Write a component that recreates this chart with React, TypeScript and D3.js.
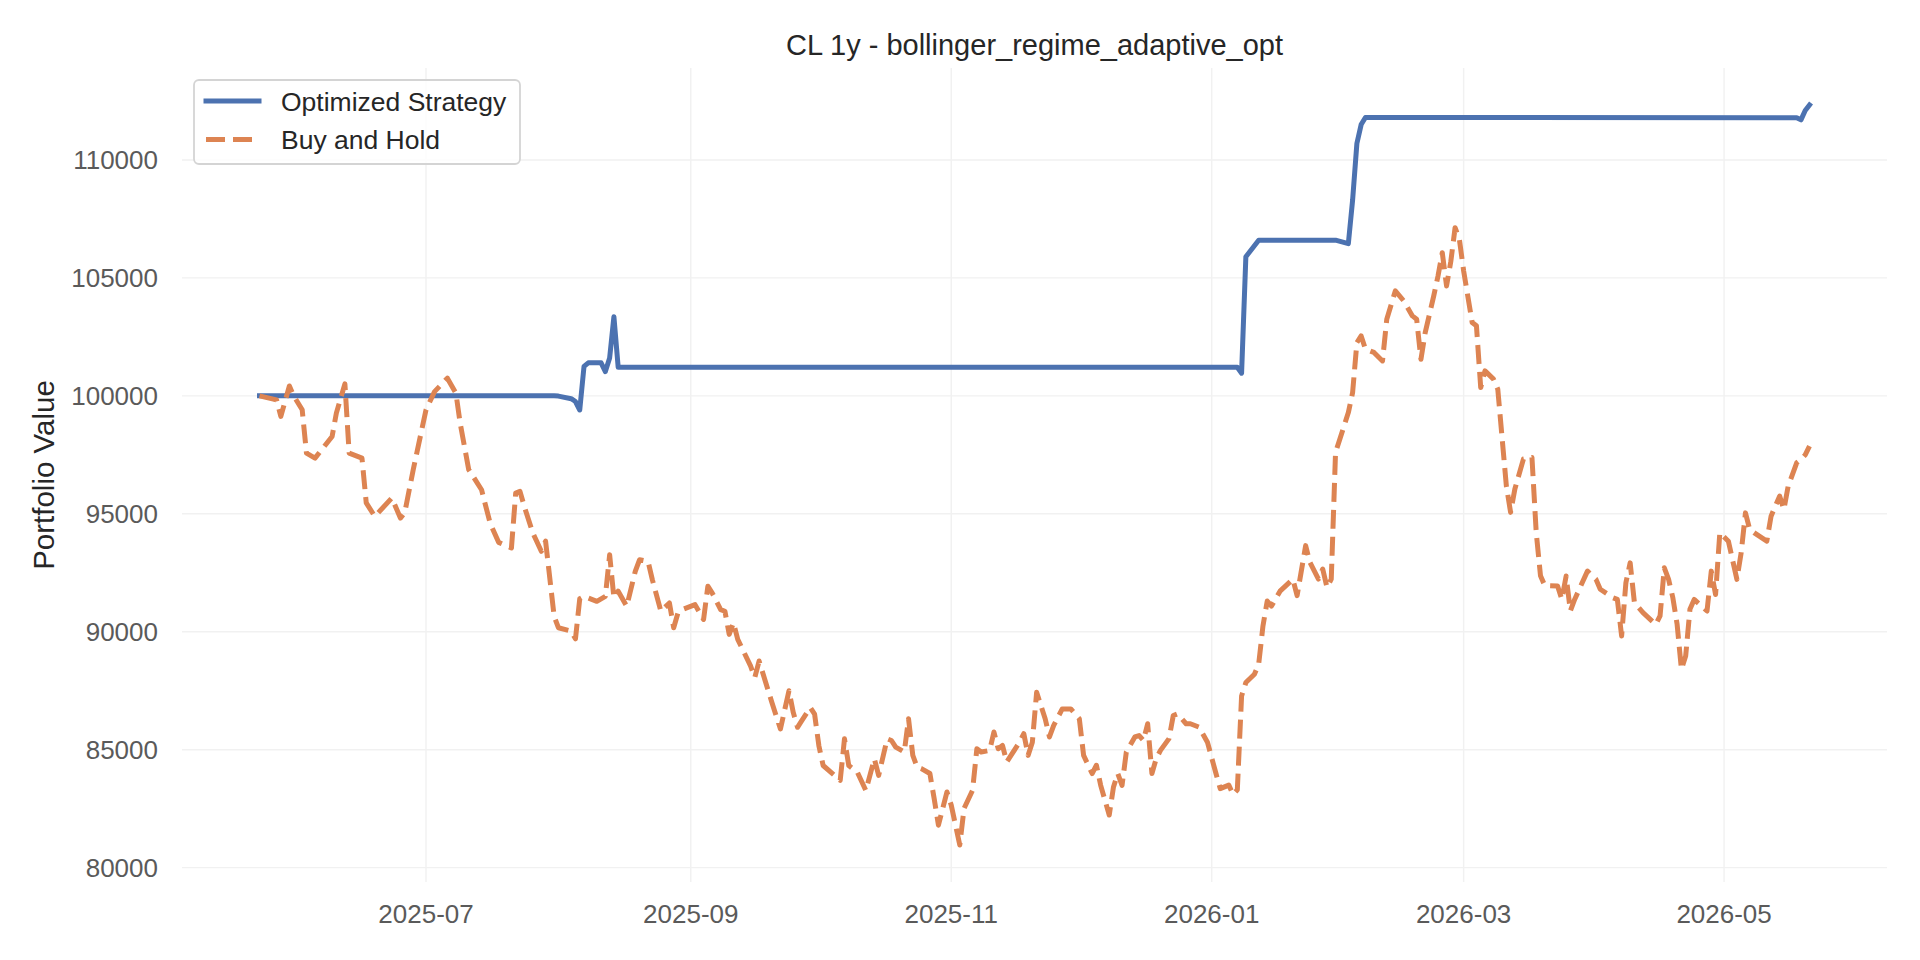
import * as d3 from "d3";

// values (CL 1y backtest)
const strategyPoints: [string, number][] = [
  ["2025-05-23", 100000], ["2025-07-31", 100000], ["2025-08-01", 99990], ["2025-08-04", 99880],
  ["2025-08-05", 99760], ["2025-08-06", 99400], ["2025-08-07", 101250], ["2025-08-08", 101400],
  ["2025-08-11", 101400], ["2025-08-12", 101030], ["2025-08-13", 101600], ["2025-08-14", 103350],
  ["2025-08-15", 101210], ["2026-01-07", 101210], ["2026-01-08", 100960], ["2026-01-09", 105900],
  ["2026-01-12", 106600], ["2026-01-30", 106600], ["2026-02-02", 106450], ["2026-02-03", 108300],
  ["2026-02-04", 110700], ["2026-02-05", 111500], ["2026-02-06", 111800], ["2026-05-18", 111790],
  ["2026-05-19", 111700], ["2026-05-20", 112100], ["2026-05-21", 112330],
];

const holdPoints: [string, number][] = [
  ["2025-05-23", 100000], ["2025-05-27", 99830], ["2025-05-28", 99130], ["2025-05-30", 100420],
  ["2025-05-31", 100000], ["2025-06-02", 99410], ["2025-06-03", 97570], ["2025-06-05", 97360],
  ["2025-06-09", 98280], ["2025-06-10", 99270], ["2025-06-12", 100510], ["2025-06-13", 97570],
  ["2025-06-16", 97360], ["2025-06-17", 95460], ["2025-06-19", 94890], ["2025-06-23", 95670],
  ["2025-06-25", 94820], ["2025-06-26", 95040], ["2025-06-28", 96870], ["2025-07-01", 99410],
  ["2025-07-03", 100180], ["2025-07-06", 100750], ["2025-07-08", 100110], ["2025-07-09", 98840],
  ["2025-07-11", 96870], ["2025-07-12", 96590], ["2025-07-14", 96020], ["2025-07-16", 94610],
  ["2025-07-18", 93790], ["2025-07-21", 93550], ["2025-07-22", 95880], ["2025-07-23", 95950],
  ["2025-07-24", 95320], ["2025-07-26", 94190], ["2025-07-28", 93410], ["2025-07-29", 93840],
  ["2025-07-31", 90660], ["2025-08-01", 90170], ["2025-08-04", 90030], ["2025-08-05", 89700],
  ["2025-08-06", 91400], ["2025-08-07", 91500], ["2025-08-10", 91290], ["2025-08-12", 91500],
  ["2025-08-13", 93260], ["2025-08-14", 91440], ["2025-08-15", 91720], ["2025-08-17", 91080],
  ["2025-08-19", 92560], ["2025-08-20", 93050], ["2025-08-22", 92980], ["2025-08-23", 92210],
  ["2025-08-25", 90870], ["2025-08-27", 91220], ["2025-08-28", 90170], ["2025-08-29", 90800],
  ["2025-08-30", 90940], ["2025-09-02", 91150], ["2025-09-04", 90520], ["2025-09-05", 91930],
  ["2025-09-06", 91650], ["2025-09-08", 90940], ["2025-09-09", 90870], ["2025-09-10", 89890],
  ["2025-09-11", 90380], ["2025-09-12", 89680], ["2025-09-15", 88550], ["2025-09-16", 88060],
  ["2025-09-17", 88760], ["2025-09-20", 87000], ["2025-09-22", 85880], ["2025-09-24", 87500],
  ["2025-09-25", 86580], ["2025-09-26", 85950], ["2025-09-27", 86230], ["2025-09-29", 86790],
  ["2025-09-30", 86510], ["2025-10-01", 85170], ["2025-10-02", 84330], ["2025-10-06", 83700],
  ["2025-10-07", 85460], ["2025-10-08", 84330], ["2025-10-10", 84050], ["2025-10-12", 83270],
  ["2025-10-14", 84610], ["2025-10-15", 83910], ["2025-10-17", 85460], ["2025-10-18", 85390],
  ["2025-10-19", 85110], ["2025-10-21", 84900], ["2025-10-22", 86310], ["2025-10-23", 84760],
  ["2025-10-24", 84270], ["2025-10-25", 84200], ["2025-10-27", 83990], ["2025-10-28", 82930],
  ["2025-10-29", 81800], ["2025-10-31", 83210], ["2025-11-01", 82650], ["2025-11-03", 80960],
  ["2025-11-04", 82510], ["2025-11-06", 83280], ["2025-11-07", 85040], ["2025-11-08", 84900],
  ["2025-11-10", 84970], ["2025-11-11", 85750], ["2025-11-12", 85040], ["2025-11-13", 85180],
  ["2025-11-14", 84480], ["2025-11-17", 85320], ["2025-11-18", 85680], ["2025-11-19", 84760],
  ["2025-11-20", 85320], ["2025-11-21", 87440], ["2025-11-22", 86870], ["2025-11-23", 86310],
  ["2025-11-24", 85540], ["2025-11-25", 86030], ["2025-11-27", 86730], ["2025-11-29", 86730],
  ["2025-12-01", 86310], ["2025-12-02", 84760], ["2025-12-04", 83990], ["2025-12-05", 84340],
  ["2025-12-06", 83490], ["2025-12-08", 82230], ["2025-12-09", 83420], ["2025-12-10", 83990],
  ["2025-12-11", 83490], ["2025-12-12", 84900], ["2025-12-14", 85540], ["2025-12-15", 85600],
  ["2025-12-16", 85390], ["2025-12-17", 86100], ["2025-12-18", 83990], ["2025-12-19", 84620],
  ["2025-12-20", 84970], ["2025-12-22", 85470], ["2025-12-23", 86450], ["2025-12-24", 86520],
  ["2025-12-26", 86100], ["2025-12-27", 86100], ["2025-12-29", 85960], ["2025-12-31", 85320],
  ["2026-01-02", 83990], ["2026-01-03", 83350], ["2026-01-05", 83500], ["2026-01-06", 83100],
  ["2026-01-07", 83300], ["2026-01-08", 87280], ["2026-01-09", 87850], ["2026-01-11", 88200],
  ["2026-01-12", 88620], ["2026-01-13", 90240], ["2026-01-14", 91300], ["2026-01-15", 91090],
  ["2026-01-17", 91720], ["2026-01-20", 92230], ["2026-01-21", 91530], ["2026-01-23", 93650],
  ["2026-01-24", 92940], ["2026-01-26", 92230], ["2026-01-27", 92660], ["2026-01-28", 91880],
  ["2026-01-29", 92230], ["2026-01-30", 97600], ["2026-01-31", 98160], ["2026-02-02", 99290],
  ["2026-02-03", 100140], ["2026-02-04", 102260], ["2026-02-05", 102540], ["2026-02-06", 101980],
  ["2026-02-08", 101840], ["2026-02-10", 101480], ["2026-02-11", 103250], ["2026-02-13", 104450],
  ["2026-02-15", 104020], ["2026-02-17", 103390], ["2026-02-18", 103250], ["2026-02-19", 101550],
  ["2026-02-20", 102680], ["2026-02-22", 104240], ["2026-02-23", 105080], ["2026-02-24", 106070],
  ["2026-02-25", 104660], ["2026-02-26", 105700], ["2026-02-27", 107130], ["2026-02-28", 106640],
  ["2026-03-01", 105300], ["2026-03-03", 103110], ["2026-03-04", 102970], ["2026-03-05", 100350],
  ["2026-03-06", 101060], ["2026-03-08", 100710], ["2026-03-09", 100280], ["2026-03-11", 96190],
  ["2026-03-12", 95060], ["2026-03-13", 96050], ["2026-03-15", 97320], ["2026-03-17", 97390],
  ["2026-03-18", 94210], ["2026-03-19", 92370], ["2026-03-20", 91960], ["2026-03-23", 91940],
  ["2026-03-24", 91370], ["2026-03-25", 92360], ["2026-03-26", 90880], ["2026-03-27", 91370],
  ["2026-03-30", 92570], ["2026-04-01", 92220], ["2026-04-02", 91800], ["2026-04-05", 91440],
  ["2026-04-06", 91370], ["2026-04-07", 89820], ["2026-04-08", 92080], ["2026-04-09", 92920],
  ["2026-04-10", 91230], ["2026-04-12", 90810], ["2026-04-15", 90310], ["2026-04-16", 90670],
  ["2026-04-17", 92710], ["2026-04-18", 92220], ["2026-04-19", 91440], ["2026-04-20", 90310],
  ["2026-04-21", 88410], ["2026-04-22", 88970], ["2026-04-23", 90950], ["2026-04-24", 91370],
  ["2026-04-27", 90880], ["2026-04-28", 92570], ["2026-04-29", 91580], ["2026-04-30", 94200],
  ["2026-05-02", 93840], ["2026-05-04", 92220], ["2026-05-05", 93350], ["2026-05-06", 95040],
  ["2026-05-07", 94340], ["2026-05-08", 94200], ["2026-05-11", 93840], ["2026-05-12", 94900],
  ["2026-05-14", 95750], ["2026-05-15", 95180], ["2026-05-16", 96170], ["2026-05-18", 97160],
  ["2026-05-19", 97300], ["2026-05-20", 97500], ["2026-05-21", 97870],
];

const yTicks = [80000, 85000, 90000, 95000, 100000, 105000, 110000];
const seriesNames = ["Optimized Strategy", "Buy and Hold"];
const seriesColors = ["#4c72b0", "#dd8452"];
const chartTitle = "CL 1y - bollinger_regime_adaptive_opt";
const yLabel = "Portfolio Value";

const width = 1920;
const height = 960;
const margin = { top: 68, right: 33, bottom: 78, left: 182 };
const font = "'Liberation Sans', Arial, sans-serif";

const parse = d3.timeParse("%Y-%m-%d");
type Pt = { date: Date; value: number };
const toPts = (rows: [string, number][]): Pt[] =>
  rows.map(([d, v]) => ({ date: parse(d) as Date, value: v }));

export default function App() {
  const strategy = toPts(strategyPoints);
  const hold = toPts(holdPoints);
  const all = strategy.concat(hold);

  // matplotlib-like 5% padding on both axes
  const [t0, t1] = d3.extent(all, (d) => d.date) as [Date, Date];
  const tPad = (t1.getTime() - t0.getTime()) * 0.05;
  const x = d3
    .scaleTime()
    .domain([new Date(t0.getTime() - tPad), new Date(t1.getTime() + tPad)])
    .range([margin.left, width - margin.right]);

  const [v0, v1] = d3.extent(all, (d) => d.value) as [number, number];
  const vPad = (v1 - v0) * 0.05;
  const y = d3
    .scaleLinear()
    .domain([v0 - vPad, v1 + vPad])
    .range([height - margin.bottom, margin.top]);

  const line = d3
    .line<Pt>()
    .x((d) => x(d.date))
    .y((d) => y(d.value));

  const xTicks = x.ticks(d3.timeMonth.every(2) as d3.TimeInterval);
  const fmt = d3.timeFormat("%Y-%m");

  const plotTop = margin.top;
  const plotBottom = height - margin.bottom;
  const plotLeft = margin.left;
  const plotRight = width - margin.right;

  return (
    <svg
      width={width}
      height={height}
      style={{ position: "absolute", left: 0, top: 0, background: "#fff" }}
      fontFamily={font}
    >
      {/* grid */}
      {xTicks.map((t) => (
        <line
          key={"gx" + t.getTime()}
          x1={x(t)}
          x2={x(t)}
          y1={plotTop}
          y2={plotBottom}
          stroke="#f1f1f1"
          strokeWidth={1.4}
        />
      ))}
      {yTicks.map((v) => (
        <line
          key={"gy" + v}
          x1={plotLeft}
          x2={plotRight}
          y1={y(v)}
          y2={y(v)}
          stroke="#f1f1f1"
          strokeWidth={1.4}
        />
      ))}

      {/* tick labels */}
      {xTicks.map((t) => (
        <text
          key={"tx" + t.getTime()}
          x={x(t)}
          y={plotBottom + 41}
          textAnchor="middle"
          fontSize={26}
          fill="#5a5a5a"
        >
          {fmt(t)}
        </text>
      ))}
      {yTicks.map((v) => (
        <text
          key={"ty" + v}
          x={plotLeft - 24}
          y={y(v)}
          dy="0.36em"
          textAnchor="end"
          fontSize={26}
          fill="#5a5a5a"
        >
          {v}
        </text>
      ))}

      {/* lines */}
      <path
        d={line(strategy) ?? ""}
        fill="none"
        stroke={seriesColors[0]}
        strokeWidth={5}
        strokeLinejoin="round"
        strokeLinecap="square"
      />
      <path
        d={line(hold) ?? ""}
        fill="none"
        stroke={seriesColors[1]}
        strokeWidth={5}
        strokeLinejoin="round"
        strokeDasharray="19 8"
      />

      {/* title and axis label */}
      <text
        x={(plotLeft + plotRight) / 2}
        y={45}
        dy="0.36em"
        textAnchor="middle"
        fontSize={29}
        fill="#262626"
      >
        {chartTitle}
      </text>
      <text
        transform={`translate(43,${(plotTop + plotBottom) / 2}) rotate(-90)`}
        textAnchor="middle"
        dy="0.36em"
        fontSize={29.5}
        fill="#262626"
      >
        {yLabel}
      </text>

      {/* legend */}
      <g>
        <rect
          x={194}
          y={80}
          width={326}
          height={84}
          rx={5}
          fill="#fff"
          fillOpacity={0.8}
          stroke="#d4d4d4"
          strokeWidth={1.8}
        />
        {seriesNames.map((name, i) => (
          <g key={name} transform={`translate(0,${101 + i * 38.5})`}>
            <line
              x1={206}
              x2={259}
              y1={0}
              y2={0}
              stroke={seriesColors[i]}
              strokeWidth={5}
              strokeLinecap={i === 0 ? "square" : "butt"}
              strokeDasharray={i === 1 ? "19 8" : undefined}
            />
            <text x={281} y={0} dy="0.36em" fontSize={26.5} fill="#262626">
              {name}
            </text>
          </g>
        ))}
      </g>
    </svg>
  );
}
